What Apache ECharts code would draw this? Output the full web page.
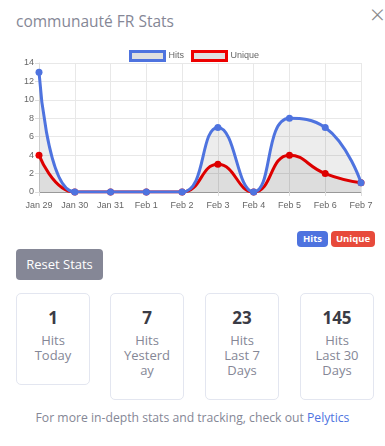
<!DOCTYPE html>
<html><head><meta charset="utf-8">
<script src="https://cdn.jsdelivr.net/npm/echarts@6/dist/echarts.min.js"></script>
<style>
html,body{margin:0;padding:0;background:#fff;width:385px;height:446px;overflow:hidden;font-family:"Open Sans","Noto Sans",sans-serif;}
#title{position:absolute;left:16px;top:10px;font-size:15.5px;color:#858796;}
#close{position:absolute;left:370px;top:-1px;font-size:26px;color:#8a8a8a;font-weight:300;line-height:30px;}
#chart{position:absolute;left:0;top:40px;width:385px;height:175px;}
.badge{position:absolute;top:231px;height:16px;line-height:16px;border-radius:4px;color:#fff;font-size:9.5px;font-weight:bold;text-align:center;}
#btn{position:absolute;left:16px;top:249px;width:87px;height:31px;line-height:31px;border-radius:4px;background:#858796;color:#fff;font-size:13px;text-align:center;}
.card{position:absolute;top:293px;width:74px;border:1px solid #e3e6f0;border-radius:5px;text-align:center;box-sizing:border-box;}
.num{margin-top:13px;font-size:17px;font-weight:bold;color:#3a3b45;line-height:22px;}
.lab{margin-top:4px;font-size:13px;color:#858796;line-height:15px;}
#foot{position:absolute;left:0;width:385px;top:409px;text-align:center;font-size:12.2px;color:#858796;}
#foot span{color:#4e73df;}
</style></head><body>
<div id="title">communauté FR Stats</div>
<div id="close">×</div>
<div id="chart"></div>
<div class="badge" style="left:297px;width:31px;background:#4e73df;">Hits</div>
<div class="badge" style="left:331px;width:44px;background:#e74a3b;">Unique</div>
<div id="btn">Reset Stats</div>
<div class="card" style="left:16px;height:92px;"><div class="num">1</div><div class="lab">Hits<br>Today</div></div>
<div class="card" style="left:110px;height:107px;"><div class="num">7</div><div class="lab">Hits<br>Yesterd<br>ay</div></div>
<div class="card" style="left:205px;height:107px;"><div class="num">23</div><div class="lab">Hits<br>Last 7<br>Days</div></div>
<div class="card" style="left:300px;height:107px;"><div class="num">145</div><div class="lab">Hits<br>Last 30<br>Days</div></div>
<div id="foot">For more in-depth stats and tracking, check out <span>Pelytics</span></div>
<script>
const categories = ["Jan 29","Jan 30","Jan 31","Feb 1","Feb 2","Feb 3","Feb 4","Feb 5","Feb 6","Feb 7"];
const hitsValues = [13,0,0,0,0,7,0,8,7,1];
const uniqueValues = [4,0,0,0,0,3,0,4,2,1];
const seriesNames = ["Hits","Unique"];
const chart = echarts.init(document.getElementById('chart'));
const font = '"Liberation Sans", Arial, sans-serif';
chart.setOption({
  animation:false,
  legend:{
    top:5, left:124, itemWidth:34, itemHeight:9, itemGap:7,
    textStyle:{fontFamily:font,fontSize:9,color:'#666',padding:[0,0,0,-1]},
    data:[
      {name:seriesNames[0],icon:'rect',itemStyle:{color:'#e0e0e0',borderColor:'#4e73df',borderWidth:3}},
      {name:seriesNames[1],icon:'rect',itemStyle:{color:'#e0e0e0',borderColor:'#ee0000',borderWidth:3}}
    ]
  },
  grid:{left:39,right:24,top:23,bottom:23},
  xAxis:{
    type:'category', data:categories, boundaryGap:false,
    axisLine:{lineStyle:{color:'#999'}},
    axisTick:{show:true,length:4,lineStyle:{color:'#ddd'}},
    axisLabel:{fontFamily:font,fontSize:9,color:'#666',margin:9,interval:0},
    splitLine:{show:true,lineStyle:{color:'#e8e8e8'}}
  },
  yAxis:{
    type:'value', min:0, max:14, interval:2,
    axisLine:{show:true,lineStyle:{color:'#ddd'}},
    axisTick:{show:true,length:4,lineStyle:{color:'#ddd'}},
    axisLabel:{fontFamily:font,fontSize:9,color:'#666',margin:5},
    splitLine:{lineStyle:{color:'#e8e8e8'}}
  },
  series:[
    {name:seriesNames[1],type:'line',data:uniqueValues,smooth:0.5,smoothConstraint:false,
     symbol:'circle',symbolSize:7,showSymbol:true,
     lineStyle:{color:'#ee0000',width:3},itemStyle:{color:'#ee0000'},
     areaStyle:{color:'rgba(0,0,0,0.1)'},z:2},
    {name:seriesNames[0],type:'line',data:hitsValues,smooth:0.5,smoothConstraint:false,
     symbol:'circle',symbolSize:7,showSymbol:true,
     lineStyle:{color:'#4e73df',width:3},itemStyle:{color:'#4e73df'},
     areaStyle:{color:'rgba(0,0,0,0.1)'},z:3}
  ]
});
</script>
</body></html>
